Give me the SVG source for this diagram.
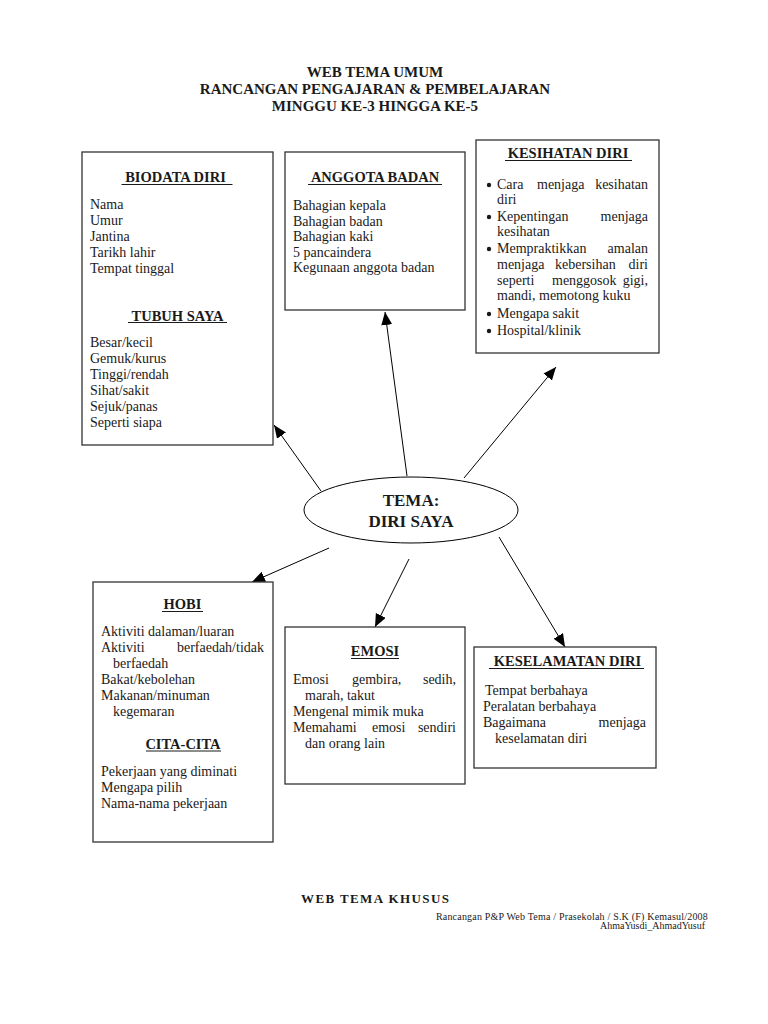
<svg xmlns="http://www.w3.org/2000/svg" width="768" height="1024" viewBox="0 0 768 1024">
<style>
text{font-family:"Liberation Serif","Times New Roman",serif;fill:#1a1a1a}
.t{font-size:15px;font-weight:bold;text-anchor:middle}
.h{font-size:14.5px;font-weight:bold;text-anchor:middle}
.b{font-size:14px}
.e{text-anchor:end}
.box{fill:#fff;stroke:#333;stroke-width:1.3}
.ul{stroke:#1a1a1a;stroke-width:1}
.c{stroke:#000;stroke-width:1;fill:none;marker-end:url(#ah)}
</style>
<defs>
<marker id="ah" markerUnits="userSpaceOnUse" markerWidth="14" markerHeight="12" refX="13" refY="5.5" orient="auto">
<path d="M0,0 L13,5.5 L0,11 z" fill="#000"/>
</marker>
</defs>
<rect width="768" height="1024" fill="#fff"/>

<g id="title">
<text class="t" x="375" y="77">WEB TEMA UMUM</text>
<text class="t" x="375" y="94">RANCANGAN PENGAJARAN &amp; PEMBELAJARAN</text>
<text class="t" x="375" y="111">MINGGU KE-3 HINGGA KE-5</text>
</g>

<g id="connectors">
<line class="c" x1="321" y1="491" x2="274" y2="425"/>
<line class="c" x1="407" y1="476" x2="385" y2="312"/>
<line class="c" x1="464" y1="478" x2="556" y2="367"/>
<line class="c" x1="329" y1="548" x2="252" y2="582"/>
<line class="c" x1="409" y1="559" x2="375" y2="627"/>
<line class="c" x1="499" y1="537" x2="565" y2="647"/>
</g>

<g id="biodata">
<rect class="box" x="82" y="152" width="191" height="293"/>
<text class="h" x="175.5" y="182">BIODATA DIRI</text>
<line class="ul" x1="121.5" y1="184.5" x2="232.5" y2="184.5"/>
<text class="b" x="90" y="208.5">Nama</text>
<text class="b" x="90" y="224.5">Umur</text>
<text class="b" x="90" y="240.5">Jantina</text>
<text class="b" x="90" y="256.5">Tarikh lahir</text>
<text class="b" x="90" y="272.5">Tempat tinggal</text>
<text class="h" x="177.5" y="320.5">TUBUH SAYA</text>
<line class="ul" x1="128" y1="322.5" x2="227" y2="322.5"/>
<text class="b" x="90" y="346.5">Besar/kecil</text>
<text class="b" x="90" y="362.5">Gemuk/kurus</text>
<text class="b" x="90" y="378.5">Tinggi/rendah</text>
<text class="b" x="90" y="394.5">Sihat/sakit</text>
<text class="b" x="90" y="410.5">Sejuk/panas</text>
<text class="b" x="90" y="426.5">Seperti siapa</text>
</g>

<g id="anggota">
<rect class="box" x="285" y="152" width="180" height="158"/>
<text class="h" x="375" y="182">ANGGOTA BADAN</text>
<line class="ul" x1="308" y1="184.5" x2="442" y2="184.5"/>
<text class="b" x="293" y="210">Bahagian kepala</text>
<text class="b" x="293" y="225.5">Bahagian badan</text>
<text class="b" x="293" y="241">Bahagian kaki</text>
<text class="b" x="293" y="256.5">5 pancaindera</text>
<text class="b" x="293" y="272">Kegunaan anggota badan</text>
</g>

<g id="kesihatan">
<rect class="box" x="476" y="140" width="183" height="213"/>
<text class="h" x="568" y="158">KESIHATAN DIRI</text>
<line class="ul" x1="505" y1="160.5" x2="632" y2="160.5"/>
<circle cx="489" cy="185" r="2.2" fill="#1a1a1a"/>
<text class="b" x="497" y="189">Cara</text>
<text class="b" x="537" y="189">menjaga</text>
<text class="b e" x="648" y="189">kesihatan</text>
<text class="b" x="497" y="204">diri</text>
<circle cx="489" cy="217" r="2.2" fill="#1a1a1a"/>
<text class="b" x="497" y="221">Kepentingan</text>
<text class="b e" x="648" y="221">menjaga</text>
<text class="b" x="497" y="236">kesihatan</text>
<circle cx="489" cy="249" r="2.2" fill="#1a1a1a"/>
<text class="b" x="497" y="253">Mempraktikkan</text>
<text class="b e" x="648" y="253">amalan</text>
<text class="b" x="497" y="269">menjaga</text>
<text class="b" x="555" y="269">kebersihan</text>
<text class="b e" x="648" y="269">diri</text>
<text class="b" x="497" y="285">seperti</text>
<text class="b" x="552" y="285">menggosok</text>
<text class="b e" x="648" y="285">gigi,</text>
<text class="b" x="497" y="300">mandi, memotong kuku</text>
<circle cx="489" cy="314" r="2.2" fill="#1a1a1a"/>
<text class="b" x="497" y="318">Mengapa sakit</text>
<circle cx="489" cy="331" r="2.2" fill="#1a1a1a"/>
<text class="b" x="497" y="335">Hospital/klinik</text>
</g>

<g id="tema">
<ellipse cx="411" cy="510" rx="107" ry="33" fill="#fff" stroke="#000" stroke-width="1"/>
<text x="411" y="506" style="font-size:17px;font-weight:bold;text-anchor:middle">TEMA:</text>
<text x="411" y="527" style="font-size:17px;font-weight:bold;text-anchor:middle">DIRI SAYA</text>
</g>

<g id="hobi">
<rect class="box" x="93" y="582" width="180" height="260"/>
<text class="h" x="182.5" y="609">HOBI</text>
<line class="ul" x1="162" y1="611.5" x2="203" y2="611.5"/>
<text class="b" x="101" y="636">Aktiviti dalaman/luaran</text>
<text class="b" x="101" y="652">Aktiviti</text>
<text class="b e" x="264" y="652">berfaedah/tidak</text>
<text class="b" x="113" y="668">berfaedah</text>
<text class="b" x="101" y="684">Bakat/kebolehan</text>
<text class="b" x="101" y="700">Makanan/minuman</text>
<text class="b" x="113" y="716">kegemaran</text>
<text class="h" x="183" y="749">CITA-CITA</text>
<line class="ul" x1="146" y1="751" x2="221" y2="751"/>
<text class="b" x="101" y="776">Pekerjaan yang diminati</text>
<text class="b" x="101" y="792">Mengapa pilih</text>
<text class="b" x="101" y="808">Nama-nama pekerjaan</text>
</g>

<g id="emosi">
<rect class="box" x="285" y="627" width="180" height="157"/>
<text class="h" x="375" y="656">EMOSI</text>
<line class="ul" x1="351" y1="658.5" x2="399" y2="658.5"/>
<text class="b" x="293" y="684">Emosi</text>
<text class="b" x="352" y="684">gembira,</text>
<text class="b e" x="456" y="684">sedih,</text>
<text class="b" x="305" y="700">marah, takut</text>
<text class="b" x="293" y="716">Mengenal mimik muka</text>
<text class="b" x="293" y="732">Memahami</text>
<text class="b" x="372" y="732">emosi</text>
<text class="b e" x="456" y="732">sendiri</text>
<text class="b" x="305" y="748">dan orang lain</text>
</g>

<g id="keselamatan">
<rect class="box" x="474" y="647" width="182" height="121"/>
<text class="h" x="567.5" y="666">KESELAMATAN DIRI</text>
<line class="ul" x1="489" y1="668.5" x2="644" y2="668.5"/>
<text class="b" x="485" y="695">Tempat berbahaya</text>
<text class="b" x="483" y="711">Peralatan berbahaya</text>
<text class="b" x="483" y="727">Bagaimana</text>
<text class="b e" x="646" y="727">menjaga</text>
<text class="b" x="495" y="743">keselamatan diri</text>
</g>

<g id="footer">
<text x="301" y="903" style="font-size:13px;font-weight:bold;letter-spacing:1.4px">WEB TEMA KHUSUS</text>
<text x="708" y="920" style="font-size:10px;letter-spacing:0.2px;text-anchor:end">Rancangan P&amp;P Web  Tema / Prasekolah / S.K (F) Kemasul/2008</text>
<text x="705" y="929" style="font-size:10px;text-anchor:end">AhmaYusdi_AhmadYusuf</text>
</g>
</svg>
